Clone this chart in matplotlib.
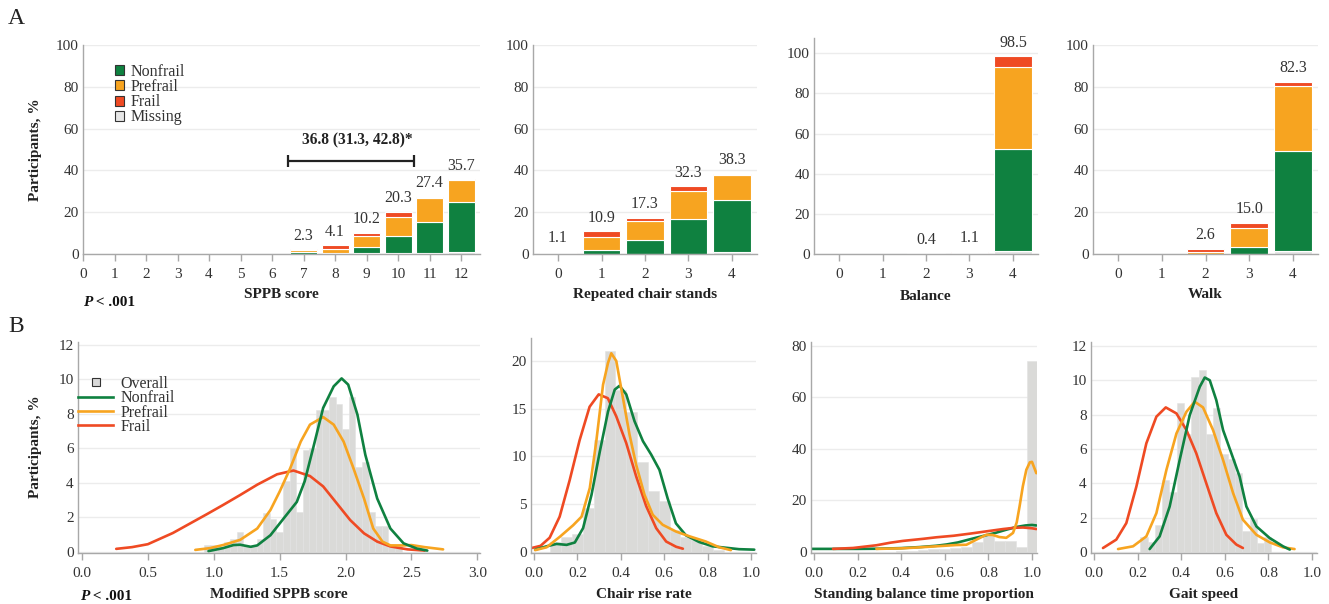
import matplotlib
matplotlib.use("Agg")
import matplotlib.pyplot as plt
import numpy as np
from matplotlib.patches import Patch
from matplotlib.lines import Line2D

plt.rcParams['font.family'] = ['Liberation Serif', 'DejaVu Serif']

GREEN = '#0f8140'
ORANGE = '#f7a420'
RED = '#ef4a23'
MISS = '#e6e6e6'
GRAY = '#dadad8'
SPINE = '#a8a8a8'
TXT = '#333333'

# ---- panel A: stacked bars (% of participants) ----
sppb_scores = list(range(13))
sppb_missing = [0, 0, 0, 0, 0, 0, 0, 0.2, 0.2, 0.3, 0.6, 0.5, 1.1]
sppb_nonfrail = [0, 0, 0, 0, 0, 0, 0, 0.6, 0.5, 2.9, 7.9, 14.7, 23.9]
sppb_prefrail = [0, 0, 0, 0, 0, 0, 0, 0.9, 1.9, 5.6, 9.2, 11.7, 10.6]
sppb_frail = [0, 0, 0, 0, 0, 0, 0, 0.6, 1.5, 1.4, 2.6, 0.5, 0.1]

comp_scores = [0, 1, 2, 3, 4]
chair_missing = [0, 0.1, 0.1, 0.2, 1.0]
chair_nonfrail = [0.5, 1.8, 6.8, 16.7, 24.7]
chair_prefrail = [0.5, 6.4, 9.1, 13.2, 11.9]
chair_frail = [0.1, 2.6, 1.3, 2.2, 0.7]

bal_missing = [0, 0, 0, 0, 1.7]
bal_nonfrail = [0, 0, 0.3, 0.2, 50.8]
bal_prefrail = [0, 0, 0.1, 0.3, 40.7]
bal_frail = [0, 0, 0, 0.6, 5.3]

walk_missing = [0, 0, 0, 0.1, 1.4]
walk_nonfrail = [0, 0, 0.2, 3.4, 48.0]
walk_prefrail = [0, 0, 0.8, 8.9, 31.0]
walk_frail = [0, 0, 1.6, 2.6, 1.9]

diff_label = "36.8 (31.3, 42.8)*"
diff_span = (6.5, 10.5)

# ---- panel B: histograms of overall sample + group densities ----
b1_bin_start, b1_bin_w = 0.925, 0.05
b1_hist = [0.39, 0.39, 0.3, 0.55, 0.78, 1.13, 0.35, 0.35, 0.78, 2.27, 1.9, 1.17,
           4.14, 6.0, 2.3, 5.9, 6.0, 8.25, 8.25, 9.0, 8.6, 7.1, 9.0, 4.9, 5.2,
           2.3, 1.5, 1.5, 0.35, 0.35]
b1_frail_x = [0.26, 0.38, 0.5, 0.69, 0.82, 0.95, 1.07, 1.2, 1.33, 1.48, 1.605, 1.73,
              1.83, 1.93, 2.035, 2.14, 2.24, 2.34, 2.47, 2.6]
b1_frail_y = [0.18, 0.28, 0.45, 1.1, 1.65, 2.2, 2.72, 3.3, 3.9, 4.5, 4.72, 4.4,
              3.8, 2.85, 1.85, 1.08, 0.6, 0.32, 0.15, 0.08]
b1_nonfrail_x = [0.96, 1.07, 1.15, 1.2, 1.28, 1.33, 1.43, 1.53, 1.63, 1.69, 1.76,
                 1.83, 1.91, 1.97, 2.02, 2.09, 2.15, 2.24, 2.34, 2.44, 2.54, 2.62]
b1_nonfrail_y = [0.05, 0.22, 0.4, 0.42, 0.3, 0.38, 0.97, 1.94, 2.9, 4.1, 6.2,
                 8.35, 9.6, 10.06, 9.7, 7.96, 5.63, 3.1, 1.36, 0.5, 0.2, 0.08]
b1_prefrail_x = [0.86, 0.97, 1.07, 1.2, 1.33, 1.43, 1.5, 1.58, 1.66, 1.73, 1.83,
                 1.91, 1.985, 2.06, 2.14, 2.21, 2.28, 2.34, 2.44, 2.5, 2.6, 2.74]
b1_prefrail_y = [0.12, 0.22, 0.4, 0.7, 1.36, 2.43, 3.5, 4.85, 6.4, 7.38, 7.82,
                 7.38, 6.4, 4.85, 3.1, 1.36, 0.6, 0.38, 0.38, 0.4, 0.28, 0.15]

b2_bin_start, b2_bin_w = 0.075, 0.05
b2_hist = [1.1, 1.6, 1.9, 4.6, 11.7, 21.0, 17.0, 14.7, 9.4, 6.4, 5.3, 2.3, 1.6,
           1.3, 0.6, 0.2]
b2_frail_x = [-0.015, 0.03, 0.072, 0.118, 0.164, 0.21, 0.256, 0.298, 0.34, 0.379,
              0.425, 0.471, 0.517, 0.563, 0.609, 0.655, 0.686]
b2_frail_y = [0.4, 0.65, 1.5, 3.7, 7.5, 11.7, 15.2, 16.5, 16.1, 14.2, 11.4, 7.9,
              4.8, 2.5, 1.1, 0.55, 0.35]
b2_prefrail_x = [0.005, 0.058, 0.119, 0.18, 0.219, 0.257, 0.287, 0.318, 0.341,
                 0.356, 0.379, 0.41, 0.44, 0.471, 0.509, 0.547, 0.593, 0.654,
                 0.716, 0.792, 0.853, 0.907]
b2_prefrail_y = [0.2, 0.5, 1.6, 2.8, 3.7, 6.7, 11.6, 17.5, 19.8, 20.8, 20.0, 16.1,
                 12.3, 9.1, 6.0, 3.9, 2.85, 2.15, 1.65, 1.1, 0.5, 0.2]
b2_nonfrail_x = [0.005, 0.058, 0.104, 0.15, 0.188, 0.226, 0.265, 0.303, 0.341,
                 0.372, 0.394, 0.425, 0.463, 0.502, 0.54, 0.578, 0.616, 0.654,
                 0.7, 0.761, 0.823, 0.884, 0.945, 1.015]
b2_nonfrail_y = [0.25, 0.6, 0.85, 0.75, 1.0, 2.5, 6.0, 10.5, 14.7, 17.0, 17.4,
                 16.5, 13.7, 11.6, 10.2, 8.6, 5.6, 3.0, 1.75, 1.05, 0.6, 0.45,
                 0.3, 0.25]

b3_bin_start, b3_bin_w = 0.375, 0.05
b3_hist = [0.3, 0.4, 0.6, 1.0, 1.3, 1.5, 2.0, 3.8, 6.6, 4.3, 4.3, 2.1, 74.0]
b3_nonfrail_x = [-0.015, 0.1, 0.2, 0.286, 0.4, 0.485, 0.56, 0.607, 0.66, 0.714,
                 0.78, 0.836, 0.88, 0.928, 0.97, 1.0, 1.02]
b3_nonfrail_y = [1.2, 1.2, 1.2, 1.25, 1.5, 1.9, 2.4, 2.9, 3.7, 4.9, 6.3, 7.5,
                 8.6, 9.7, 10.3, 10.5, 10.3]
b3_frail_x = [0.087, 0.179, 0.286, 0.35, 0.408, 0.5, 0.561, 0.64, 0.714, 0.79,
              0.867, 0.92, 0.959, 1.0, 1.02]
b3_frail_y = [1.2, 1.55, 2.6, 3.6, 4.3, 5.1, 5.7, 6.3, 7.1, 8.0, 8.9, 9.4, 9.5,
              9.2, 8.9]
b3_prefrail_x = [0.286, 0.4, 0.485, 0.56, 0.653, 0.699, 0.745, 0.791, 0.82, 0.85,
                 0.882, 0.913, 0.93, 0.943, 0.958, 0.974, 0.99, 1.0, 1.02]
b3_prefrail_y = [1.2, 1.4, 1.8, 2.2, 2.7, 2.8, 4.8, 6.7, 6.6, 5.8, 5.5, 7.4, 11.5,
                 17.7, 25.5, 31.9, 34.8, 35.0, 30.6]

b4_bin_start, b4_bin_w = 0.2125, 0.0334
b4_hist = [0.87, 0.56, 1.6, 4.2, 3.5, 8.7, 6.9, 10.2, 10.6, 6.9, 8.4, 5.7, 5.4,
           4.6, 1.2, 1.9, 0.55, 0.9]
b4_frail_x = [0.041, 0.102, 0.148, 0.194, 0.24, 0.286, 0.329, 0.378, 0.424, 0.469,
              0.515, 0.561, 0.607, 0.653, 0.683]
b4_frail_y = [0.23, 0.72, 1.68, 3.8, 6.33, 7.88, 8.42, 8.07, 7.1, 5.75, 4.0, 2.26,
              1.0, 0.43, 0.23]
b4_prefrail_x = [0.11, 0.179, 0.24, 0.286, 0.332, 0.378, 0.424, 0.462, 0.5, 0.546,
                 0.592, 0.638, 0.683, 0.745, 0.806, 0.867, 0.92]
b4_prefrail_y = [0.17, 0.33, 0.91, 2.26, 4.78, 6.9, 8.17, 8.75, 8.42, 7.1, 5.36,
                 3.43, 1.88, 1.0, 0.56, 0.27, 0.17]
b4_nonfrail_x = [0.255, 0.301, 0.347, 0.393, 0.439, 0.485, 0.508, 0.531, 0.561,
                 0.592, 0.63, 0.668, 0.699, 0.745, 0.806, 0.867, 0.898]
b4_nonfrail_y = [0.17, 0.91, 2.65, 5.36, 7.97, 9.62, 10.16, 10.0, 8.84, 7.1, 5.75,
                 4.39, 2.65, 1.49, 0.81, 0.33, 0.14]

W, H = 1329, 604
fig = plt.figure(figsize=(W / 100, H / 100), dpi=100)

TICK_FS = 11
LAB_FS = 11
LEG_FS = 11.5


def px_axes(l, r, t, b):
    return fig.add_axes([l / W, 1 - b / H, (r - l) / W, (b - t) / H])


def style(ax):
    for s in ('top', 'right'):
        ax.spines[s].set_visible(False)
    for s in ('left', 'bottom'):
        ax.spines[s].set_color(SPINE)
        ax.spines[s].set_linewidth(1)
    ax.grid(axis='y', color='#ececec', lw=1)
    ax.set_axisbelow(True)
    ax.tick_params(axis='y', length=0, pad=3, labelsize=TICK_FS, labelcolor=TXT)
    ax.tick_params(axis='x', length=5, color=SPINE, width=1, pad=5,
                   labelsize=TICK_FS, labelcolor=TXT)


def stacked(ax, x, missing, nonfrail, prefrail, frail):
    bottom = np.zeros(len(x))
    for vals, col in ((missing, MISS), (nonfrail, GREEN), (prefrail, ORANGE), (frail, RED)):
        ax.bar(x, vals, 0.86, bottom=bottom, color=col, edgecolor='white', lw=0.8)
        bottom = bottom + np.array(vals)
    for xi, tot in zip(x, bottom):
        if tot > 0:
            ax.annotate(f"{tot:.1f}", (xi, tot), xytext=(0, 4), textcoords='offset points',
                        ha='center', va='bottom', fontsize=11.5, color=TXT)


def xlabel(ax, text):
    ax.set_xlabel(text, fontsize=LAB_FS, fontweight='bold', color='#222222')
    ax.xaxis.set_label_coords(0.5, -0.165)
    ax.xaxis.label.set_va('top')


# top row
axA1 = px_axes(83, 480, 45, 254)
axA2 = px_axes(533, 757, 45, 254)
axA3 = px_axes(814, 1038, 38, 254)
axA4 = px_axes(1093, 1318, 45, 254)

stacked(axA1, sppb_scores, sppb_missing, sppb_nonfrail, sppb_prefrail, sppb_frail)
stacked(axA2, comp_scores, chair_missing, chair_nonfrail, chair_prefrail, chair_frail)
stacked(axA3, comp_scores, bal_missing, bal_nonfrail, bal_prefrail, bal_frail)
stacked(axA4, comp_scores, walk_missing, walk_nonfrail, walk_prefrail, walk_frail)

axA1.set_xlim(0, 12.6)
axA1.set_xticks(sppb_scores)
for ax in (axA2, axA3, axA4):
    ax.set_xlim(-0.575, 4.575)
    ax.set_xticks(comp_scores)
for ax in (axA1, axA2, axA4):
    ax.set_ylim(0, 100)
axA3.set_ylim(0, 107.6)
for ax in (axA1, axA2, axA3, axA4):
    ax.set_yticks(range(0, 101, 20))
    style(ax)

xlabel(axA1, "SPPB score")
xlabel(axA2, "Repeated chair stands")
xlabel(axA3, "Balance")
xlabel(axA4, "Walk")

# difference bracket
axA1.errorbar([(diff_span[0] + diff_span[1]) / 2], [44.5],
              xerr=[(diff_span[1] - diff_span[0]) / 2], fmt='none',
              ecolor='#222222', elinewidth=1.6, capsize=4, capthick=1.6)
axA1.text(8.72, 54.5, diff_label, ha='center', va='center', fontsize=11.2,
          fontweight='bold', color='#222222')

legA = axA1.legend(
    handles=[Patch(facecolor=c, edgecolor='#333333', lw=0.8, label=l)
             for c, l in ((GREEN, 'Nonfrail'), (ORANGE, 'Prefrail'), (RED, 'Frail'),
                          (MISS, 'Missing'))],
    loc='upper left', bbox_to_anchor=(0.08, 0.91), frameon=False, fontsize=LEG_FS,
    handlelength=0.6, handleheight=0.6, handletextpad=0.4, labelspacing=-0.05,
    borderaxespad=0, borderpad=0)
for t in legA.get_texts():
    t.set_color(TXT)

# bottom row
axB1 = px_axes(78, 480, 342, 553)
axB2 = px_axes(531, 756, 338, 553)
axB3 = px_axes(811, 1037, 342, 553)
axB4 = px_axes(1091, 1317, 342, 553)


def panel(ax, start, width, hist, curves):
    left = start + width * np.arange(len(hist))
    ax.bar(left, hist, width, align='edge', color=GRAY, edgecolor='#e2e2e2', lw=0.4)
    for xs, ys, col in curves:
        ax.plot(xs, ys, color=col, lw=1.9, solid_joinstyle='round', solid_capstyle='round')


panel(axB1, b1_bin_start, b1_bin_w, b1_hist,
      [(b1_frail_x, b1_frail_y, RED), (b1_prefrail_x, b1_prefrail_y, ORANGE),
       (b1_nonfrail_x, b1_nonfrail_y, GREEN)])
panel(axB2, b2_bin_start, b2_bin_w, b2_hist,
      [(b2_frail_x, b2_frail_y, RED), (b2_nonfrail_x, b2_nonfrail_y, GREEN),
       (b2_prefrail_x, b2_prefrail_y, ORANGE)])
panel(axB3, b3_bin_start, b3_bin_w, b3_hist,
      [(b3_nonfrail_x, b3_nonfrail_y, GREEN), (b3_frail_x, b3_frail_y, RED),
       (b3_prefrail_x, b3_prefrail_y, ORANGE)])
panel(axB4, b4_bin_start, b4_bin_w, b4_hist,
      [(b4_frail_x, b4_frail_y, RED), (b4_prefrail_x, b4_prefrail_y, ORANGE),
       (b4_nonfrail_x, b4_nonfrail_y, GREEN)])

axB1.set_xlim(-0.03, 3.02)
axB1.set_ylim(-0.06, 12.17)
axB1.set_xticks(np.arange(0, 3.01, 0.5))
axB1.set_yticks(range(0, 13, 2))
axB2.set_ylim(-0.1, 22.4)
axB2.set_yticks(range(0, 21, 5))
axB3.set_ylim(-0.4, 81.55)
axB3.set_yticks(range(0, 81, 20))
axB4.set_ylim(-0.06, 12.23)
axB4.set_yticks(range(0, 13, 2))
for ax in (axB2, axB3, axB4):
    ax.set_xlim(-0.014, 1.023)
    ax.set_xticks(np.arange(0, 1.01, 0.2))
for ax in (axB1, axB2, axB3, axB4):
    ax.xaxis.set_major_formatter(matplotlib.ticker.FormatStrFormatter('%.1f'))
    style(ax)

xlabel(axB1, "Modified SPPB score")
xlabel(axB2, "Chair rise rate")
xlabel(axB3, "Standing balance time proportion")
xlabel(axB4, "Gait speed")

legB = axB1.legend(
    handles=[Line2D([], [], marker='s', ls='none', mfc='#d9d9d9', mec='#333333',
                    ms=6, mew=0.8, label='Overall'),
             Line2D([], [], color=GREEN, lw=1.9, label='Nonfrail'),
             Line2D([], [], color=ORANGE, lw=1.9, label='Prefrail'),
             Line2D([], [], color=RED, lw=1.9, label='Frail')],
    loc='upper left', bbox_to_anchor=(0.0, 0.84), frameon=False, fontsize=LEG_FS,
    handlelength=2.2, handletextpad=0.45, labelspacing=-0.1, borderaxespad=0,
    borderpad=0)
for t in legB.get_texts():
    t.set_color(TXT)

# shared labels
for yc in (150, 447):
    fig.text(35 / W, 1 - yc / H, "Participants, %", rotation=90, ha='center',
             va='center', fontsize=LAB_FS, fontweight='bold', color='#222222')
fig.text(8 / W, 1 - 18 / H, "A", ha='left', va='center', fontsize=17, color='#222222')
fig.text(8 / W, 1 - 326 / H, "B", ha='left', va='center', fontsize=17, color='#222222')

for xp, yp in ((83, 302), (80, 596)):
    p = fig.text(xp / W, 1 - yp / H, "P", ha='left', va='center', fontsize=LAB_FS,
                 fontweight='bold', fontstyle='italic', color='#111111')
    fig.axes[0].annotate(" < .001", xy=(1, 0), xycoords=p, ha='left', va='bottom',
                         fontsize=LAB_FS, fontweight='bold', color='#111111',
                         annotation_clip=False)

fig.savefig("out.png", dpi=100, facecolor='white')
